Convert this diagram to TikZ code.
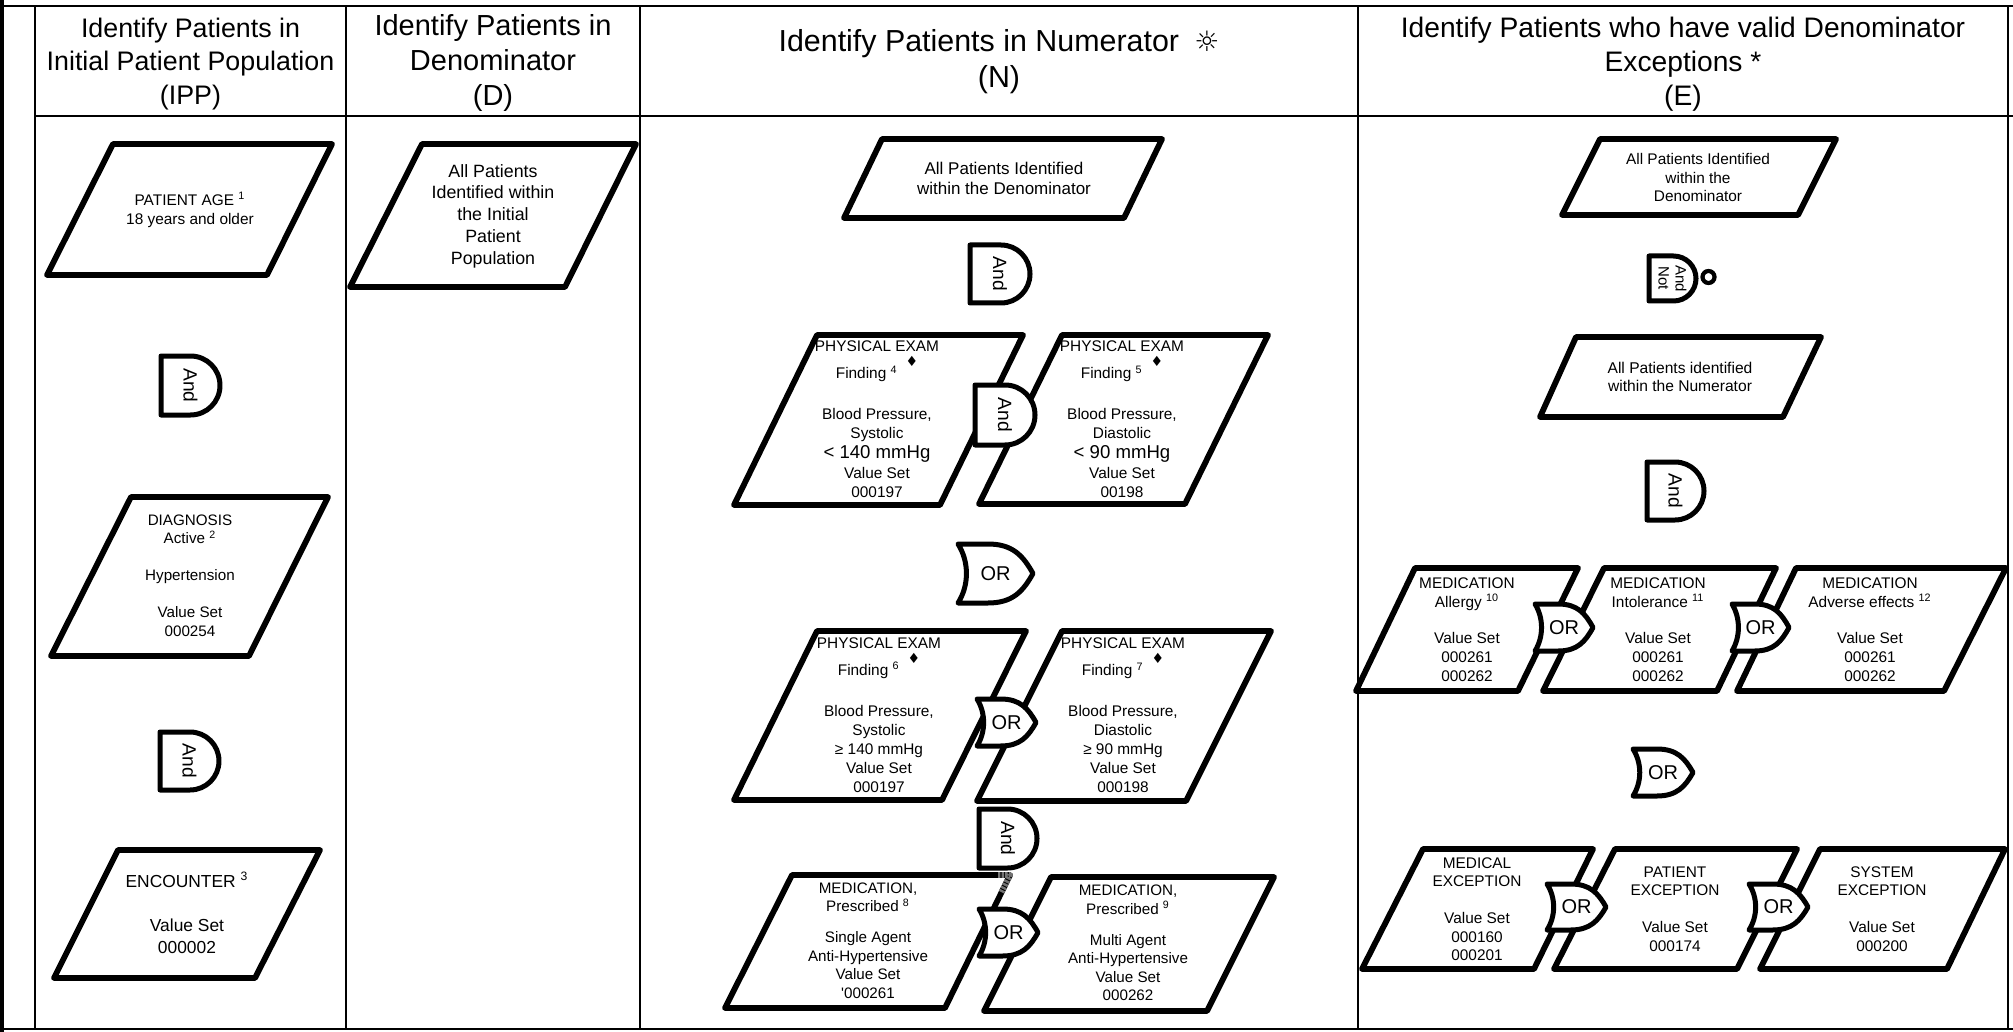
\documentclass[tikz,border=0pt]{standalone}
\usepackage{fontspec}
\setmainfont{Liberation Sans}
\newfontfamily\djv{DejaVu Sans}
\newcommand\dmd{\hspace{4pt}\raisebox{6pt}[0pt][0pt]{\djv\fontsize{7}{7}\selectfont ♦}}
% D-shaped (And) gate: name, left, top, bottom, width, text style, text
\newcommand\gateD[7]{%
  \pgfmathsetmacro\GDl{#2+2}%
  \pgfmathsetmacro\GDt{#3+2}%
  \pgfmathsetmacro\GDb{#4-2}%
  \pgfmathsetmacro\GDr{(\GDb-\GDt)/2}%
  \pgfmathsetmacro\GDm{(\GDt+\GDb)/2}%
  \pgfmathsetmacro\GDxr{#2+#5-2}%
  \pgfmathsetmacro\GDxa{\GDxr-\GDr}%
  \pgfmathsetmacro\GDxb{\GDxa+0.5523*\GDr}%
  \pgfmathsetmacro\GDya{\GDm-0.5523*\GDr}%
  \pgfmathsetmacro\GDyb{\GDm+0.5523*\GDr}%
  \draw[gate] (\GDl,\GDt) -- (\GDxa,\GDt) .. controls (\GDxb,\GDt) and (\GDxr,\GDya) .. (\GDxr,\GDm)
     .. controls (\GDxr,\GDyb) and (\GDxb,\GDb) .. (\GDxa,\GDb) -- (\GDl,\GDb) -- cycle;
  \node[#6] (#1) at ({(#2+#2+#5)/2},\GDm) {#7};
}
% OR gate: name, left, top, bottom, right
\newcommand\gateOR[5]{%
  \pgfmathsetmacro\GOl{#2+2}%
  \pgfmathsetmacro\GOt{#3+2}%
  \pgfmathsetmacro\GOb{#4-2}%
  \pgfmathsetmacro\GOr{#5-2}%
  \pgfmathsetmacro\GOh{\GOb-\GOt}%
  \pgfmathsetmacro\GOm{(\GOt+\GOb)/2}%
  \pgfmathsetmacro\GOxa{\GOl+0.4*(\GOr-\GOl)}%
  \pgfmathsetmacro\GOd{\GOr-\GOxa}%
  \pgfmathsetmacro\GOca{\GOxa+0.55*\GOd}%
  \pgfmathsetmacro\GOcb{\GOr-0.22*\GOd}%
  \pgfmathsetmacro\GOya{\GOm-0.3*\GOh}%
  \pgfmathsetmacro\GOyb{\GOm+0.3*\GOh}%
  \pgfmathsetmacro\GOlc{\GOl+0.15*(\GOr-\GOl)}%
  \pgfmathsetmacro\GOla{\GOt+0.3*\GOh}%
  \pgfmathsetmacro\GOlb{\GOb-0.3*\GOh}%
  \draw[gate] (\GOl,\GOt) -- (\GOxa,\GOt) .. controls (\GOca,\GOt) and (\GOcb,\GOya) .. (\GOr,\GOm)
     .. controls (\GOcb,\GOyb) and (\GOca,\GOb) .. (\GOxa,\GOb) -- (\GOl,\GOb)
     .. controls (\GOlc,\GOlb) and (\GOlc,\GOla) .. cycle;
  \node[ortxt] (#1) at ({(#2+#5)/2},\GOm) {OR};
}
\begin{document}
\begin{tikzpicture}[x=0.5pt,y=-0.5pt,
  tline/.style={line width=1pt},
  pbox/.style={line width=2.9pt, line join=round},
  gate/.style={line width=2.5pt, line join=round, fill=white},
  hdr/.style={align=center, inner sep=0pt},
  btxt/.style={align=center, inner sep=0pt, font=\fontsize{7.7}{9.5}\selectfont},
  andtxt/.style={inner sep=0pt, rotate=-90, font=\fontsize{9.6}{11}\selectfont},
  andnot/.style={align=center, inner sep=0pt, rotate=-90, font=\fontsize{7.5}{8.5}\selectfont},
  ortxt/.style={inner sep=0pt, font=\fontsize{10}{12}\selectfont}]
\useasboundingbox (0,0) rectangle (2013,1032);
\fill[white] (0,0) rectangle (2013,1032);
% ---------- table ----------
\fill[black] (0,0) rectangle (4,1032);
\draw[tline] (0,6) -- (2013,6);
\draw[tline] (35,116) -- (2013,116);
\draw[tline] (0,1029) -- (2013,1029);
\draw[tline] (35,6) -- (35,1029);
\draw[tline] (346,6) -- (346,1029);
\draw[tline] (640,6) -- (640,1029);
\draw[tline] (1357.7,6) -- (1357.7,1029);
\draw[tline] (2008,6) -- (2008,1029);
% ---------- headers ----------
\node[hdr, font=\fontsize{13.4}{16.75}\selectfont] (h1) at (190.5,64) {Identify Patients in\\Initial Patient Population\\(IPP)};
\node[hdr, font=\fontsize{14.5}{17.5}\selectfont] (h2) at (493,63) {Identify Patients in\\Denominator\\(D)};
\node[hdr, font=\fontsize{15.2}{18}\selectfont] (h3) at (999,62) {Identify Patients in Numerator\hspace{0.5em}{\djv\fontsize{14}{14}\selectfont ☼}\\(N)};
\node[hdr, font=\fontsize{14.1}{17}\selectfont] (h4) at (1683,64) {Identify Patients who have valid Denominator\\Exceptions *\\(E)};
% ---------- boxes ----------
\draw[pbox] (113,144) -- (332,144) -- (267,275) -- (47,275) -- cycle;
\draw[pbox] (131,497) -- (328,497) -- (249,656) -- (51,656) -- cycle;
\draw[pbox] (118,850) -- (320,850) -- (255,978) -- (54,978) -- cycle;
\draw[pbox] (422,144) -- (636,144) -- (565,287) -- (350,287) -- cycle;
\draw[pbox] (882,139) -- (1162,139) -- (1124,218) -- (844,218) -- cycle;
\draw[pbox] (817,335) -- (1023,335) -- (940,505) -- (734,505) -- cycle;
\draw[pbox] (1062,335) -- (1268,335) -- (1185,504) -- (979,504) -- cycle;
\draw[pbox] (817,631) -- (1026,631) -- (942,800) -- (734,800) -- cycle;
\draw[pbox] (1062,631) -- (1271,631) -- (1186,801) -- (977,801) -- cycle;
\draw[pbox] (792,875) -- (1010,875) -- (945,1008) -- (725,1008) -- cycle;
\draw[pbox, black!55, dash pattern=on 1.2pt off 0.6pt] (998,875) -- (1010,875) -- (1001,893);
\draw[pbox] (1051,877) -- (1274,877) -- (1207,1011) -- (984,1011) -- cycle;
\draw[pbox] (1600,139) -- (1836,139) -- (1798,215) -- (1562,215) -- cycle;
\draw[pbox] (1576,337) -- (1821,337) -- (1783,417) -- (1540,417) -- cycle;
\draw[pbox] (1415,568) -- (1578,568) -- (1518,691) -- (1356,691) -- cycle;
\draw[pbox] (1604,568) -- (1776,568) -- (1717,691) -- (1543,691) -- cycle;
\draw[pbox] (1796,568) -- (2006,568) -- (1944,691) -- (1737,691) -- cycle;
\draw[pbox] (1423,849) -- (1593,849) -- (1534,969) -- (1362,969) -- cycle;
\draw[pbox] (1615,849) -- (1797,849) -- (1737,969) -- (1554,969) -- cycle;
\draw[pbox] (1820,849) -- (2005,849) -- (1947,969) -- (1760,969) -- cycle;
% ---------- gates ----------
\gateD{gA1}{159}{354}{417}{63}{andtxt}{And}
\gateD{gA2}{158}{730}{792}{63}{andtxt}{And}
\gateD{gN1}{968}{243}{305}{64}{andtxt}{And}
\gateD{gN2}{973}{383}{447}{64}{andtxt}{And}
\gateD{gN3}{977}{807}{870}{62}{andtxt}{And}
\gateD{gE1}{1645}{460}{522}{61}{andtxt}{And}
\gateD{gEN}{1647}{254}{303}{51}{andnot}{And\\Not}
\node[circle, draw, line width=2.1pt, fill=white, minimum size=6pt, inner sep=0pt] (bub) at (1708.5,277) {};
\gateOR{oN1}{956}{542}{605}{1035}
\gateOR{oN2}{975}{697}{748}{1038}
\gateOR{oN3}{977}{907}{958}{1040}
\gateOR{oE1}{1533}{602}{653}{1595}
\gateOR{oE2}{1730}{602}{653}{1791}
\gateOR{oE3}{1631}{747}{798}{1695}
\gateOR{oE4}{1545}{882}{932}{1608}
\gateOR{oE5}{1747}{882}{932}{1810}
% ---------- box texts ----------
\node[btxt] (tPA) at (190,210) {PATIENT AGE \textsuperscript{1}\\18 years and older};
\node[btxt, font=\fontsize{7.6}{9.25}\selectfont] (tDG) at (190,575.5) {DIAGNOSIS\\Active \textsuperscript{2}\\[9.25pt]Hypertension\\[9.25pt]Value Set\\000254};
\node[btxt, font=\fontsize{8.7}{11}\selectfont] (tEN) at (187,913) {ENCOUNTER \textsuperscript{3}\\[11pt]Value Set\\000002};
\node[btxt, font=\fontsize{8.9}{10.85}\selectfont] (tD) at (493,216) {All Patients\\Identified within\\the Initial\\Patient\\Population};
\node[btxt, font=\fontsize{8.5}{10}\selectfont] (tN1) at (1004,178) {All Patients Identified\\within the Denominator};
\node[btxt] (tPE4) at (877,419.5) {PHYSICAL EXAM\\[4pt]Finding \textsuperscript{4}\dmd\\[11pt]Blood Pressure,\\Systolic\\[0.5pt]{\fontsize{9.3}{10}\selectfont < 140 mmHg}\\[0.5pt]Value Set\\000197};
\node[btxt] (tPE5) at (1122,419.5) {PHYSICAL EXAM\\[4pt]Finding \textsuperscript{5}\dmd\\[11pt]Blood Pressure,\\Diastolic\\[0.5pt]{\fontsize{9.3}{10}\selectfont < 90 mmHg}\\[0.5pt]Value Set\\00198};
\node[btxt] (tPE6) at (879,715) {PHYSICAL EXAM\\[4pt]Finding \textsuperscript{6}\dmd\\[11pt]Blood Pressure,\\Systolic\\≥ 140 mmHg\\Value Set\\000197};
\node[btxt] (tPE7) at (1123,715.5) {PHYSICAL EXAM\\[4pt]Finding \textsuperscript{7}\dmd\\[11pt]Blood Pressure,\\Diastolic\\≥ 90 mmHg\\Value Set\\000198};
\node[btxt, font=\fontsize{7.6}{9.25}\selectfont] (tM8) at (868,940.5) {MEDICATION,\\Prescribed \textsuperscript{8}\\[6.25pt]Single Agent\\Anti-Hypertensive\\Value Set\\\textquotesingle 000261};
\node[btxt, font=\fontsize{7.6}{9.25}\selectfont] (tM9) at (1128,943) {MEDICATION,\\Prescribed \textsuperscript{9}\\[6.25pt]Multi Agent\\Anti-Hypertensive\\Value Set\\000262};
\node[btxt, font=\fontsize{7.7}{9.25}\selectfont] (tE1) at (1698,177.5) {All Patients Identified\\within the\\Denominator};
\node[btxt, font=\fontsize{7.8}{9}\selectfont] (tE2) at (1680,377) {All Patients identified\\within the Numerator};
\node[btxt] (tMA) at (1467,629.5) {MEDICATION\\Allergy \textsuperscript{10}\\[8.5pt]Value Set\\000261\\000262};
\node[btxt] (tMI) at (1658,629.5) {MEDICATION\\Intolerance \textsuperscript{11}\\[8.5pt]Value Set\\000261\\000262};
\node[btxt] (tMAE) at (1870,629.5) {MEDICATION\\Adverse effects \textsuperscript{12}\\[8.5pt]Value Set\\000261\\000262};
\node[btxt, font=\fontsize{7.7}{9.25}\selectfont] (tMX) at (1477,909) {MEDICAL\\EXCEPTION\\[9.25pt]Value Set\\000160\\000201};
\node[btxt, font=\fontsize{7.7}{9.25}\selectfont] (tPX) at (1675,909) {PATIENT\\EXCEPTION\\[9.25pt]Value Set\\000174};
\node[btxt, font=\fontsize{7.7}{9.25}\selectfont] (tSX) at (1882,909) {SYSTEM\\EXCEPTION\\[9.25pt]Value Set\\000200};
\end{tikzpicture}
\end{document}
